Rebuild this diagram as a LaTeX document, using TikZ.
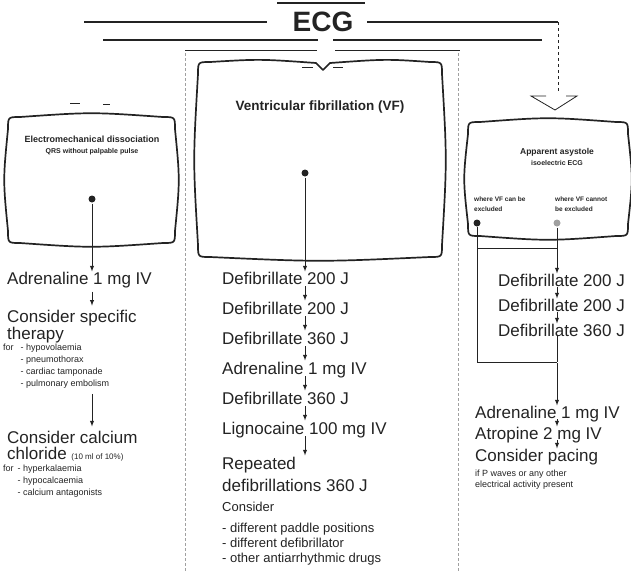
\documentclass[tikz,border=0pt]{standalone}
\usepackage{fontspec}
\setmainfont{Liberation Sans}
\usetikzlibrary{arrows, math, positioning}
\definecolor{ink}{RGB}{35,35,35}
\definecolor{faint}{RGB}{160,160,160}

\begin{document}
\begin{tikzpicture}[x=1pt, y=-1pt,
  screen/.style={line width=1.7pt, color=ink, line join=round},
  route/.style={line width=1pt, color=ink},
  flow/.style={-latex, line width=0.9pt, color=ink, shorten <=1pt},
  bus/.style={line width=1.2pt, color=ink},
  colsep/.style={densely dashed, line width=0.4pt, color=faint},
  dot/.style={circle, fill=ink, inner sep=0pt, minimum size=7pt},
  bigtext/.style={anchor=base west, inner sep=0pt, align=left, text=ink, font=\fontsize{17}{16}\selectfont},
  smalltext/.style={anchor=base west, inner sep=0pt, align=left, text=ink, font=\fontsize{9}{12}\selectfont},
  screentitle/.style={inner sep=0pt, align=center, text=ink}]

\useasboundingbox (0,0) rectangle (631,574);

\tikzmath{
\xl = 92;  % left column axis
\xc = 305; % VF column axis
\xr = 557; % asystole column axis
\xe = 477; % VF excluded route
\r = 12;   % screen corner
\b = 5;    % screen bulge
}

%ECG header:
\node[screentitle, font=\bfseries\fontsize{28}{28}\selectfont] (ecg) at (323,22) {ECG};
\draw[bus] (277,3) -- (365,3);
\draw[bus] (84,22) -- (267,22);
\draw[bus] (367,22) -- (558,22);
\draw[bus, line width=0.6pt, dashed] (558,22) -- (558,93);
\draw[bus, line width=0.8pt] (546,96) -- (531,96) -- (555,110) -- (577,96) -- (566,96);
\draw[bus] (103,40) -- (318,40);
\draw[bus] (333,40) -- (542,40);
\draw[bus, line width=0.8pt] (185,50) -- (317,50);
\draw[bus, line width=0.8pt] (335,50) -- (460,50);
\draw[colsep] (185,53) -- (185,572);
\draw[colsep] (458,53) -- (458,572);

%arrow marks over the screens:
\draw[bus, line width=0.8pt] (70,103) -- (80,103);
\draw[bus, line width=0.8pt] (103,104) -- (110,104);
\draw[bus, line width=0.8pt] (302,67) -- (313,67);
\draw[bus, line width=0.8pt] (333,67) -- (343,67);

%screens:
\foreach \xa/\ya/\xb/\yb in {8/117/175/243, 468/122/628/236}{
 \draw[screen] (\xa,\ya+\r) .. controls (\xa,\ya) .. (\xa+\r,\ya)
  .. controls ({(\xa+\xb)/2},\ya-\b) .. (\xb-\r,\ya)
  .. controls (\xb,\ya) .. (\xb,\ya+\r)
  .. controls (\xb+\b,{(\ya+\yb)/2}) .. (\xb,\yb-\r)
  .. controls (\xb,\yb) .. (\xb-\r,\yb)
  .. controls ({(\xa+\xb)/2},\yb+\b) .. (\xa+\r,\yb)
  .. controls (\xa,\yb) .. (\xa,\yb-\r)
  .. controls (\xa-\b,{(\ya+\yb)/2}) .. cycle;
}
\draw[screen] (198,62+\r) .. controls (198,62) .. (198+\r,62)
  .. controls (260,59) .. (316,63) -- (323,70) -- (330,63)
  .. controls (386,59) .. (442-\r,62)
  .. controls (442,62) .. (442,62+\r)
  .. controls (442+\b,160) .. (442,257-\r)
  .. controls (442,257) .. (442-\r,257)
  .. controls (320,257+\b) .. (198+\r,257)
  .. controls (198,257) .. (198,257-\r)
  .. controls (198-\b,160) .. cycle;

%screen texts:
\node[screentitle] (emdtitle) at (92,145) {{\bfseries\fontsize{9}{10}\selectfont Electromechanical dissociation}\\[-1pt]{\bfseries\fontsize{7}{9}\selectfont QRS without palpable pulse}};
\node[screentitle, font=\bfseries\fontsize{13.5}{15}\selectfont] (vftitle) at (320,107) {Ventricular fibrillation (VF)};
\node[screentitle] (astitle) at (\xr,157) {{\bfseries\fontsize{8.5}{10}\selectfont Apparent asystole}\\[-1pt]{\bfseries\fontsize{7}{9}\selectfont isoelectric ECG}};
\node[smalltext, font=\bfseries\fontsize{6.5}{10}\selectfont] (excl) at (474,211) {where VF can be\\excluded};
\node[smalltext, font=\bfseries\fontsize{6.5}{10}\selectfont] (notexcl) at (555,211) {where VF cannot\\be excluded};

\node[dot] (ldot) at (\xl,199) {};
\node[dot] (vdot) at (\xc,173) {};
\node[dot] (edot) at (\xe,223) {};
\node[dot, fill=faint] (cdot) at (\xr,223) {};

%left column (base = last line):
\node[bigtext] (la1) at (7,284) {Adrenaline 1 mg IV};
\node[bigtext, font=\fontsize{17}{15}\selectfont] (la2) at (7,339) {Consider specific\\therapy};
\node[smalltext] (la3) at (3,350) {\begin{tabular}[t]{@{}l@{\hspace{7pt}}l@{}}for & - hypovolaemia\\ & - pneumothorax\\ & - cardiac tamponade\\ & - pulmonary embolism\end{tabular}};
\node[bigtext] (la4) at (7,459) {Consider calcium\\chloride {\fontsize{8}{8}\selectfont (10 ml of 10\%)}};
\node[smalltext] (la5) at (3,471) {\begin{tabular}[t]{@{}l@{\hspace{4pt}}l@{}}for & - hyperkalaemia\\ & - hypocalcaemia\\ & - calcium antagonists\end{tabular}};

\draw[flow] (ldot) -- (la1.north -| ldot);
\draw[flow, shorten <=4pt, shorten >=4pt] (la1.south -| ldot) -- (la2.north -| ldot);
\draw[flow, shorten <=4pt, shorten >=4pt] (la3.south -| ldot) -- (la4.north -| ldot);

%VF column:
\node[bigtext] (vd1) at (222,284) {Defibrillate 200 J};
\node[bigtext] (vd2) at (222,314) {Defibrillate 200 J};
\node[bigtext] (vd3) at (222,344) {Defibrillate 360 J};
\node[bigtext] (vd4) at (222,374) {Adrenaline 1 mg IV};
\node[bigtext] (vd5) at (222,404) {Defibrillate 360 J};
\node[bigtext] (vd6) at (222,434) {Lignocaine 100 mg IV};
\node[bigtext, font=\fontsize{17}{22}\selectfont] (vd7) at (222,491) {Repeated\\defibrillations 360 J};
\node[bigtext, font=\fontsize{13}{15}\selectfont] (vd8) at (222,511) {Consider};
\node[bigtext, font=\fontsize{13}{15}\selectfont] (vd9) at (222,562) {- different paddle positions\\- different defibrillator\\- other antiarrhythmic drugs};

\draw[flow] (vdot) -- (vd1.north -| vdot);
\foreach \a/\b in {vd1/vd2, vd2/vd3, vd3/vd4, vd4/vd5, vd5/vd6, vd6/vd7}
 \draw[flow, shorten <=2pt, shorten >=1pt] (\a.base -| vdot) -- (\b.north -| vdot);

%asystole column:
\node[bigtext] (rd1) at (498,286) {Defibrillate 200 J};
\node[bigtext] (rd2) at (498,311) {Defibrillate 200 J};
\node[bigtext] (rd3) at (498,336) {Defibrillate 360 J};
\node[bigtext] (ra1) at (475,418) {Adrenaline 1 mg IV};
\node[bigtext] (ra2) at (475,439) {Atropine 2 mg IV};
\node[bigtext] (ra3) at (475,461) {Consider pacing};
\node[smalltext] (ra4) at (475,487) {if P waves or any other\\[-1pt]electrical activity present};

\coordinate (bar) at (\xr,248);
\coordinate (xjoin) at (\xr,362);
\draw[route] (edot) -- (edot |- xjoin) -- (xjoin);
\draw[route] (edot |- bar) -- (bar);
\draw[flow] (cdot) -- (rd1.north -| cdot);
\draw[flow] (rd1.base -| cdot) -- (rd2.north -| cdot);
\draw[flow] (rd2.base -| cdot) -- (rd3.north -| cdot);
\draw[route] (rd3.base -| cdot) -- (xjoin);
\draw[flow] (xjoin) -- (ra1.north -| xjoin);
\draw[flow] (ra1.base -| cdot) -- (ra2.north -| cdot);
\draw[flow] (ra2.base -| cdot) -- (ra3.north -| cdot);

\end{tikzpicture}
\end{document}
